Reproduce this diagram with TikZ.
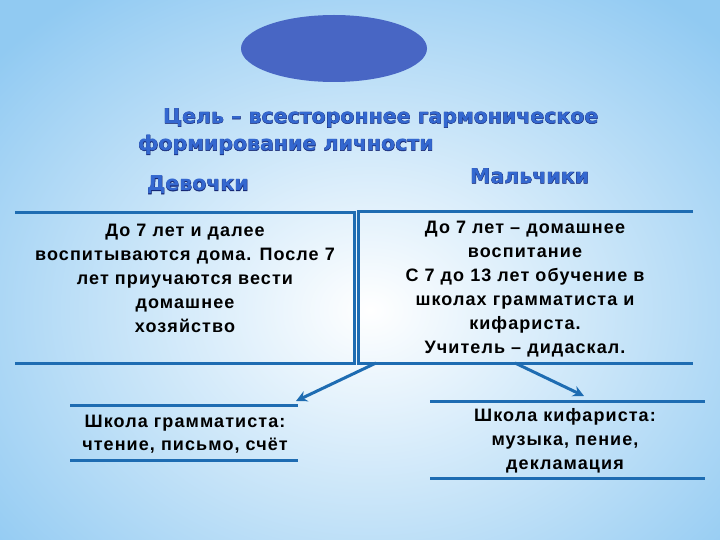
\documentclass[tikz,border=0pt]{standalone}
\usepackage{fontspec}
\setmainfont{Liberation Sans}[LetterSpace=6]
\newfontfamily\headfont{DejaVu Sans}
\newfontfamily\headoutline{DejaVu Sans}[BoldFeatures={FakeBold=2.5}]
\usetikzlibrary{arrows.meta}
\definecolor{bgblue}{RGB}{145,202,242}
\definecolor{lineblue}{RGB}{30,108,178}
\definecolor{ovalblue}{RGB}{72,102,196}
\definecolor{headblue}{RGB}{52,104,208}
\definecolor{headdark}{RGB}{22,40,118}
\tikzset{
  rule/.style={draw=lineblue, line width=3pt},
  arr/.style={draw=lineblue, line width=3pt, -{Stealth[length=11pt,width=11pt]}},
  body/.style={align=center, text=black, font=\bfseries\fontsize{18}{24}\selectfont, inner sep=0pt},
  head/.style={text=headblue, font=\headfont\bfseries\fontsize{20.5}{22}\selectfont, inner sep=0pt},
  headbg/.style={text=headdark, font=\headoutline\bfseries\fontsize{20.5}{22}\selectfont, inner sep=0pt}
}
\begin{document}
\begin{tikzpicture}[x=1pt,y=-1pt]
\useasboundingbox (0,0) rectangle (720,540);
\shade[inner color=white, outer color=bgblue] (-120,-80) rectangle (860,700);
\fill[ovalblue] (334,48.5) ellipse [x radius=93, y radius=33.5];
% headings (dark outline layer, then fill layer)
\node[headbg, anchor=west] (t1o) at (163,118) {Цель – всестороннее гармоническое};
\node[headbg, anchor=west] (t2o) at (138,145) {формирование личности};
\node[headbg, anchor=west] (girlso) at (147,185) {Девочки};
\node[headbg, anchor=west] (boyso) at (470,176) {Мальчики};
\node[head, anchor=west] (t1) at (163,118) {Цель – всестороннее гармоническое};
\node[head, anchor=west] (t2) at (138,145) {формирование личности};
\node[head, anchor=west] (girls) at (147,185) {Девочки};
\node[head, anchor=west] (boys) at (470,176) {Мальчики};
% big boxes
\coordinate (lt1) at (15,213); \coordinate (lt2) at (354,213);
\coordinate (lb1) at (15,363); \coordinate (lb2) at (354,363);
\coordinate (rt1) at (358,212); \coordinate (rt2) at (693,212);
\coordinate (rb1) at (358,363); \coordinate (rb2) at (693,363);
\draw[rule] (lt1) -- (lt2) -- (lb2) -- (lb1);
\draw[rule] (rt2) -- (rt1) -- (rb1) -- (rb2);
\node[body] (girlsbox) at (185,278) {До 7 лет и далее\\воспитываются дома. После 7\\лет приучаются вести\\домашнее\\хозяйство};
\node[body] (boysbox) at (525,289) {До 7 лет – домашнее\\воспитание\\С 7 до 13 лет обучение в\\школах грамматиста и\\кифариста.\\Учитель – дидаскал.};
% small boxes
\coordinate (st1) at (70,405); \coordinate (st2) at (298,405);
\coordinate (sb1) at (70,460); \coordinate (sb2) at (298,460);
\coordinate (kt1) at (430,401); \coordinate (kt2) at (705,401);
\coordinate (kb1) at (430,478); \coordinate (kb2) at (705,478);
\draw[rule] (st1) -- (st2);
\draw[rule] (sb1) -- (sb2);
\draw[rule] (kt1) -- (kt2);
\draw[rule] (kb1) -- (kb2);
\node[body, font=\bfseries\fontsize{18}{22.5}\selectfont] (gram) at (185,434) {Школа грамматиста:\\чтение, письмо, счёт};
\node[body] (kif) at (565,440.5) {Школа кифариста:\\музыка, пение,\\декламация};
% arrows
\coordinate (a1s) at (376,363); \coordinate (a1e) at (296,401);
\coordinate (a2s) at (515,363); \coordinate (a2e) at (584,396);
\draw[arr] (a1s) -- (a1e);
\draw[arr] (a2s) -- (a2e);
\end{tikzpicture}
\end{document}
